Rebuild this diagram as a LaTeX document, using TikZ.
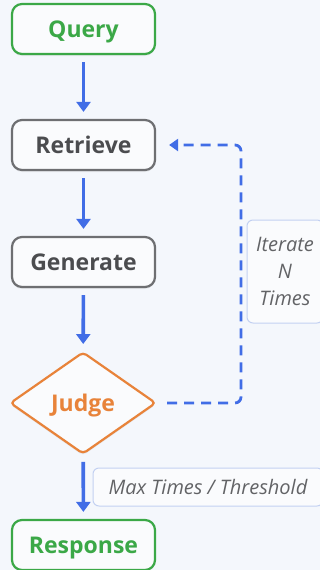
\documentclass[tikz,border=0pt]{standalone}
\usepackage{fontspec}
\setmainfont{Open Sans}
\usetikzlibrary{shapes.geometric}
\usetikzlibrary{arrows.meta}
\usetikzlibrary{shadows}
\definecolor{bgblue}{HTML}{F4F7FC}
\definecolor{boxfill}{HTML}{FAFBFD}
\definecolor{boxgray}{HTML}{6E6F72}
\definecolor{textgray}{HTML}{4B4C4F}
\definecolor{okgreen}{HTML}{3BA847}
\definecolor{judgeorange}{HTML}{E8833A}
\definecolor{flowblue}{HTML}{416DE6}
\definecolor{noteline}{HTML}{C3D1F2}
\definecolor{notetext}{HTML}{626366}
\tikzset{%
  stepbox/.style={draw=boxgray, line width=2.2pt, rounded corners=10pt, fill=boxfill,
    minimum width=143pt, minimum height=50pt, text=textgray,
    text height=16.5pt, text depth=0pt,
    drop shadow={opacity=0.12, shadow xshift=0pt, shadow yshift=-2pt},
    font=\fontsize{23}{27}\selectfont\bfseries}}
\tikzset{%
  endbox/.style={stepbox, draw=okgreen, text=okgreen}}
\tikzset{%
  judgebox/.style={diamond, draw=judgeorange, line width=2.2pt, fill=boxfill, inner sep=0pt,
    minimum width=146pt, minimum height=102pt, rounded corners=4pt, text=judgeorange,
    text height=16.5pt, text depth=0pt,
    drop shadow={opacity=0.12, shadow xshift=0pt, shadow yshift=-2pt},
    font=\fontsize{23}{27}\selectfont\bfseries}}
\tikzset{%
  notebox/.style={draw=noteline, line width=1pt, rounded corners=6pt, fill=boxfill,
    text=notetext, inner sep=0pt, font=\fontsize{20}{27}\selectfont\itshape}}
\tikzset{%
  flow/.style={draw=flowblue, line width=3.6pt, -{Triangle[length=10pt,width=14pt]},
    shorten <=7pt, shorten >=7pt}}
\tikzset{%
  loopback/.style={draw=flowblue, line width=2.8pt, dash pattern=on 10pt off 7pt,
    rounded corners=6pt, -{Triangle[length=9pt,width=12pt]},
    shorten <=10pt, shorten >=13pt}}

\begin{document}
\begin{tikzpicture}[x=1pt,y=-1pt]
\fill[bgblue] (0,0) rectangle (320,570);
\useasboundingbox (0,0) rectangle (320,570);
\node[endbox] (query) at (83.5,29) {Query};
\node[stepbox] (retrieve) at (83.5,145) {Retrieve};
\node[stepbox] (generate) at (83.5,262) {Generate};
\node[judgebox] (judge) at (83,403) {Judge};
\node[endbox] (response) at (83.5,545) {Response};
\draw[flow] (query) -- (retrieve);
\draw[flow] (retrieve) -- (generate);
\draw[flow] (generate) -- (judge);
\draw[flow] (judge) -- (response);
% loop back to retrieve
\coordinate (bend) at (241,270);
\draw[loopback] (judge.east) -| (bend) |- (retrieve.east);
\node[notebox, align=center, minimum width=76pt, minimum height=103pt] (iterate) at (285,271.5) {Iterate\\N\\Times};
\node[notebox, minimum width=230pt, minimum height=38pt] (maxnote) at (208,487) {Max Times / Threshold};
\end{tikzpicture}
\end{document}
